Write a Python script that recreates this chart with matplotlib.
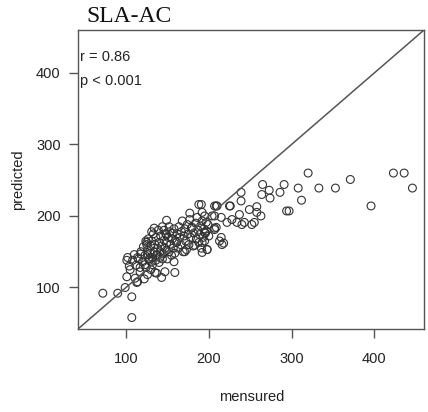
import matplotlib.pyplot as plt

# Valores (mensured vs predicted)
grupo_bajo = [(72, 92), (90, 92), (107, 87), (107, 58), (99, 100), (101, 115), (111, 113),
              (101, 138), (108, 138), (105, 125), (117, 122), (126, 118), (135, 121), (104, 130),
              (112, 131), (115, 140), (120, 136), (124, 128), (110, 146), (118, 147), (128, 140),
              (132, 132), (122, 112), (130, 125), (114, 108), (113, 107), (117, 128), (102, 142),
              (114, 142), (123, 132), (131, 136), (147, 122), (143, 114), (126, 146), (138, 146),
              (159, 121), (137, 120), (125, 163), (158, 136)]
grupo_medio = [(118, 150), (121, 157), (123, 145), (125, 160), (126, 152), (127, 168), (129, 148),
               (130, 158), (131, 165), (133, 175), (134, 150), (135, 160), (136, 170), (137, 145),
               (138, 155), (139, 180), (140, 163), (141, 150), (142, 172), (143, 158), (144, 185),
               (145, 147), (146, 166), (147, 155), (148, 175), (149, 162), (150, 140), (151, 170),
               (152, 150), (153, 178), (154, 160), (155, 145), (156, 168), (157, 155), (158, 182),
               (159, 148), (160, 165), (128, 138), (132, 142), (136, 138), (140, 135), (144, 140),
               (124, 165), (131, 178), (146, 180), (152, 185), (156, 176), (141, 142), (149, 152),
               (134, 183), (149, 194), (149, 174)]
grupo_alto = [(161, 163), (162, 175), (163, 155), (164, 185), (165, 170), (166, 160), (167, 178),
              (168, 193), (169, 150), (170, 172), (171, 182), (172, 165), (173, 153), (174, 188),
              (175, 175), (176, 160), (177, 195), (178, 170), (179, 183), (180, 184), (181, 158),
              (182, 176), (183, 159), (184, 190), (185, 168), (186, 198), (187, 180), (188, 163),
              (189, 174), (190, 186), (191, 155), (192, 149), (193, 170), (194, 182), (195, 165),
              (196, 176), (197, 179), (198, 153), (199, 188), (200, 172), (188, 216), (177, 204),
              (195, 200), (204, 200), (192, 193), (161, 163), (171, 150)]
grupo_derecha = [(207, 214), (209, 184), (239, 233), (239, 221), (225, 214), (209, 214), (192, 205),
                 (207, 200), (228, 195), (237, 202), (249, 209), (255, 191), (243, 191), (234, 191),
                 (222, 191), (215, 198), (197, 191), (207, 181), (195, 177), (213, 165), (216, 160),
                 (192, 163), (198, 153), (207, 183), (215, 170), (218, 162), (258, 213), (258, 205),
                 (263, 200), (252, 188), (240, 188), (226, 214), (210, 214), (191, 216), (265, 244),
                 (273, 236), (291, 244), (286, 233), (264, 230), (274, 225), (294, 207), (297, 207)]
grupo_extremo = [(320, 260), (308, 239), (333, 239), (353, 239), (371, 251), (312, 222),
                 (396, 214), (423, 260), (436, 260), (446, 239)]

puntos = grupo_bajo + grupo_medio + grupo_alto + grupo_derecha + grupo_extremo
mensured = [p[0] for p in puntos]
predicted = [p[1] for p in puntos]

LIMITES = (42, 460)
TEXTO = '#222222'
GRIS = '#555555'

fig = plt.figure(figsize=(4.28, 4.12), dpi=100)
ax = fig.add_axes([0.1822, 0.2015, 0.8085, 0.7257])

ax.plot(LIMITES, LIMITES, color=GRIS, lw=1.1)
ax.scatter(mensured, predicted, s=32, facecolors='none', edgecolors='#333333', linewidths=0.8)

ax.set_xlim(*LIMITES)
ax.set_ylim(*LIMITES)
ax.set_xticks([100, 200, 300, 400])
ax.set_yticks([100, 200, 300, 400])
for s in ax.spines.values():
    s.set_color(GRIS)
    s.set_linewidth(1.0)
ax.tick_params(direction='out', length=6.5, width=1, color=GRIS, labelsize=10.5,
               labelcolor=TEXTO)
ax.tick_params(axis='x', pad=10)
ax.tick_params(axis='y', pad=6)
plt.setp(ax.get_xticklabels() + ax.get_yticklabels(), family='Liberation Sans')

fig.text(0.589, 0.036, 'mensured', family='Liberation Sans', fontsize=10.5,
         ha='center', va='center', color=TEXTO)
fig.text(0.042, 0.564, 'predicted', family='Liberation Sans', fontsize=10.5,
         ha='center', va='center', rotation=90, color=TEXTO)

ax.text(0.006, 0.910, 'r = 0.86', transform=ax.transAxes, family='Liberation Sans',
        fontsize=10.5, va='center', ha='left', color=TEXTO)
ax.text(0.006, 0.830, 'p < 0.001', transform=ax.transAxes, family='Liberation Sans',
        fontsize=10.5, va='center', ha='left', color=TEXTO)

fig.text(0.201, 0.961, 'SLA-AC', family='Liberation Serif', fontsize=17, va='center',
         ha='left', color='#111111')

fig.savefig('out.png', dpi=100)
